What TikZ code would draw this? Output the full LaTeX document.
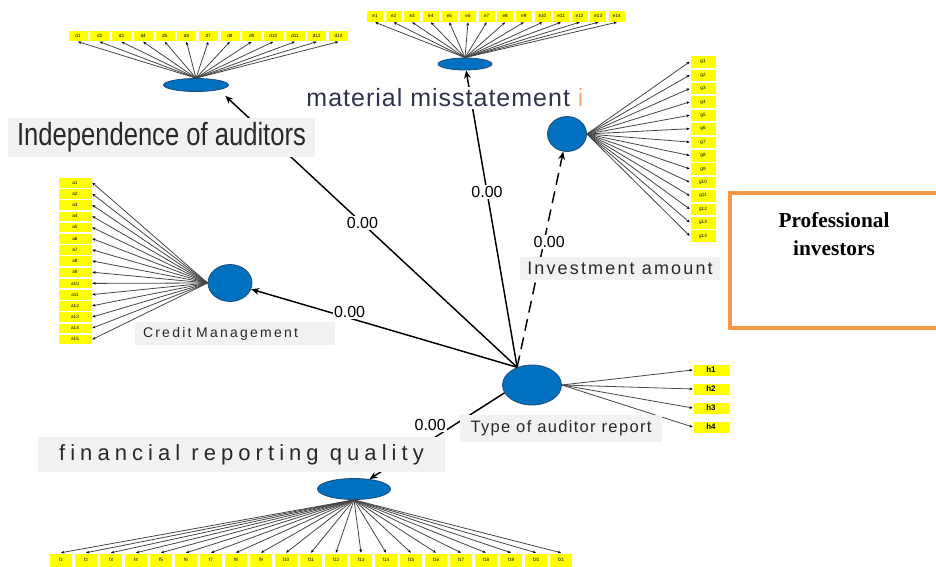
\documentclass[tikz,border=0pt]{standalone}
\usepackage{fontspec}
\setmainfont{Liberation Sans}
\newfontfamily\serifbf{Liberation Serif}
\usetikzlibrary{arrows.meta,calc,shapes.geometric}
\definecolor{latblue}{RGB}{0,112,192}
\definecolor{latedge}{RGB}{31,78,121}
\definecolor{indyellow}{RGB}{255,255,0}
\definecolor{lblgray}{RGB}{242,242,242}
\definecolor{boxorange}{RGB}{247,150,70}
\definecolor{loadgray}{RGB}{70,70,70}
\definecolor{lbltext}{RGB}{40,40,45}
\definecolor{mmstext}{RGB}{45,52,75}
\definecolor{fadeorange}{RGB}{245,170,120}

\tikzset{
  latent/.style={ellipse, fill=latblue, draw=latedge, line width=0.6pt, inner sep=0pt},
  indicator/.style={rectangle, fill=indyellow, draw=white, line width=0.4pt, inner sep=0pt,
    font=\fontsize{3.5}{4}\selectfont},
  loading/.style={draw=loadgray, line width=0.6pt, -{Stealth[length=2.5pt,width=2pt,color=black]}},
  structural/.style={draw=black, line width=1.1pt, -{Stealth[length=6pt,width=5pt]}},
  coef/.style={fill=white, inner sep=1pt, font=\fontsize{12}{14}\selectfont},
  varlabel/.style={fill=lblgray, inner sep=0pt, text=lbltext},
}

\begin{document}
\begin{tikzpicture}[x=0.75pt, y=-0.75pt]
\useasboundingbox (0,0) rectangle (936,567);

% latent variables
\node[latent, minimum width=48.75pt, minimum height=9.75pt] (iau) at (196,85) {};
\node[latent, minimum width=40.5pt, minimum height=9pt] (mms) at (465,64) {};
\node[latent, minimum width=29.25pt, minimum height=26.25pt] (inv) at (567,134) {};
\node[latent, minimum width=33pt, minimum height=27.75pt] (crm) at (230,283) {};
\node[latent, minimum width=44.25pt, minimum height=30pt] (tar) at (532,385) {};
\node[latent, minimum width=54.75pt, minimum height=15.75pt] (frq) at (354,489) {};

% indicators and loadings
\foreach \i in {1,...,13} {
  \node[indicator, minimum width=15pt, minimum height=8.25pt] (d\i) at ({78+21.7*(\i-1)},36) {d\i};
  \draw[loading] (iau.north) -- (d\i.south);
}
\foreach \i in {1,...,14} {
  \node[indicator, minimum width=12.75pt, minimum height=9pt] (e\i) at ({375+18.6*(\i-1)},16) {e\i};
  \draw[loading] (mms.north) -- (e\i.south);
}
\foreach \i in {1,...,14} {
  \node[indicator, minimum width=19.5pt, minimum height=9.4pt] (g\i) at (703,{61.7+13.4*(\i-1)}) {g\i};
  \draw[loading] (inv.east) -- (g\i.west);
}
\foreach \i in {1,...,15} {
  \node[indicator, minimum width=25.5pt, minimum height=7.9pt] (a\i) at (75,{182.6+11.2*(\i-1)}) {a\i};
  \draw[loading] (crm.west) -- (a\i.east);
}
\foreach \i in {1,...,4} {
  \node[indicator, minimum width=27pt, minimum height=9pt, font=\fontsize{6}{7}\selectfont\bfseries]
    (h\i) at (711,{370+19*(\i-1)}) {h\i};
  \draw[loading] (tar.east) -- (h\i.west);
}
\foreach \i in {1,...,21} {
  \node[indicator, minimum width=17.25pt, minimum height=10.5pt] (f\i) at ({61+25*(\i-1)},560) {f\i};
  \draw[loading] (frq.south) -- (f\i.north);
}

% structural paths
\draw[structural] (tar.130) -- node[coef, pos=0.53] (k1) {0.00} ($(iau.south east)+(6,6)$);
\draw[structural] (tar.130) -- node[coef, pos=0.59] (k2) {0.00} (mms);
\draw[structural, dash pattern=on 9pt off 5pt] (tar.130) -- node[coef, pos=0.58, xshift=4pt] (k3) {0.00} (inv);
\draw[structural] (tar.130) -- node[coef, pos=0.63, above=-1pt] (k4) {0.00} (crm);
\draw[structural] (tar.196) -- node[coef, pos=0.55, above=6pt] (k5) {0.00} (frq);

% variable labels
\node[varlabel, minimum width=230.25pt, minimum height=29.25pt,
  font=\fontsize{24}{28}\selectfont] (iauLbl) at (161.5,137.5)
  {\scalebox{0.8}[1]{Independence of auditors}};
\node[fill=white, inner sep=1pt, text=mmstext,
  font=\fontsize{18.75}{22}\selectfont\addfontfeature{LetterSpace=4}] (mmsLbl) at (445,98)
  {material misstatement \textcolor{fadeorange}{i}};
\node[varlabel, minimum width=150pt, minimum height=17.25pt,
  font=\fontsize{13.5}{16}\selectfont\addfontfeature{LetterSpace=12}] (invLbl) at (620,268.5)
  {Investment amount};
\node[varlabel, text width=138pt, align=left, inner xsep=6pt, minimum height=17.25pt,
  font=\fontsize{10.5}{12}\selectfont\addfontfeature{LetterSpace=16}] (crmLbl) at (235,333.5)
  {Credit Management};
\node[varlabel, minimum width=151.5pt, minimum height=20.25pt,
  font=\fontsize{12.4}{15}\selectfont\addfontfeature{LetterSpace=8}] (tarLbl) at (561,428.5)
  {Type of auditor report};
\node[varlabel, minimum width=305.25pt, minimum height=26.25pt,
  font=\fontsize{16.5}{20}\selectfont\addfontfeature{LetterSpace=23}] (frqLbl) at (241.5,454.5)
  {financial reporting quality};

% group box
\node[draw=boxorange, line width=3pt, fill=white, minimum width=202.5pt, minimum height=101.25pt]
  (proBox) at (865,260.5) {};
\node[font=\serifbf\bfseries\fontsize{16}{21}\selectfont, align=center] (proText) at (834,234)
  {Professional\\investors};
\end{tikzpicture}
\end{document}
